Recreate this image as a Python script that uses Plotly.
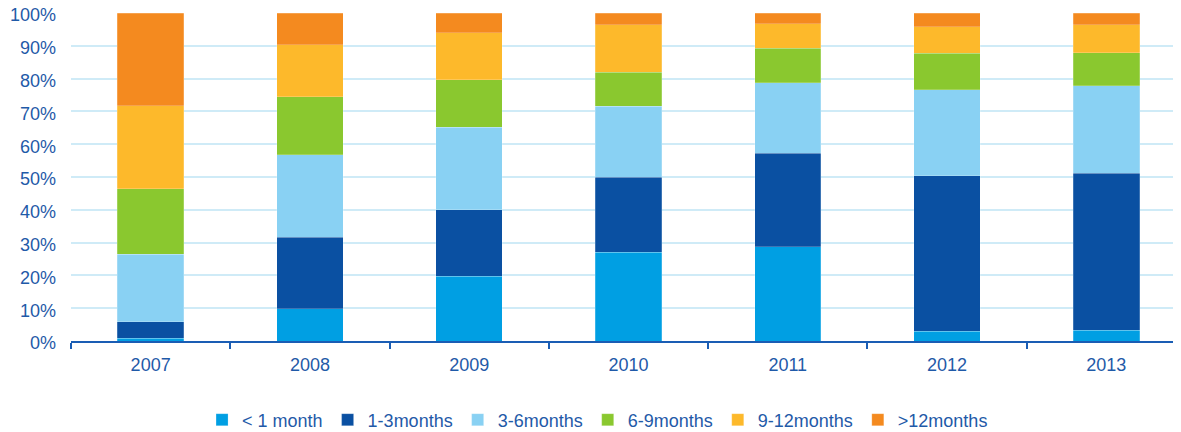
import plotly.graph_objects as go

years = ["2007", "2008", "2009", "2010", "2011", "2012", "2013"]

lt_1m = [0.8, 9.9, 19.7, 27.0, 28.8, 3.0, 3.3]
m1_3 = [5.0, 21.8, 20.3, 23.0, 28.4, 47.4, 47.9]
m3_6 = [20.6, 25.1, 25.2, 21.5, 21.5, 26.2, 26.6]
m6_9 = [20.0, 17.6, 14.5, 10.4, 10.5, 11.1, 10.1]
m9_12 = [25.3, 15.9, 14.3, 14.5, 7.5, 8.1, 8.5]
gt_12m = [28.3, 9.7, 6.0, 3.6, 3.3, 4.2, 3.6]

series_names = ["< 1 month", "1-3months", "3-6months", "6-9months", "9-12months", ">12months"]
series_values = [lt_1m, m1_3, m3_6, m6_9, m9_12, gt_12m]
colors = ["#009FE3", "#0A50A2", "#89D1F3", "#8AC82F", "#FDB92B", "#F48A1F"]

y_tickvals = [0, 10, 20, 30, 40, 50, 60, 70, 80, 90, 100]
y_ticktext = [f"{v}%" for v in y_tickvals]

text_color = "#1F5AA8"
font_family = "Liberation Sans, Arial, sans-serif"

# The page adds an 8px body margin, so the figure is sized to fill the
# remaining 1173x424 area of the 1181x432 window.
W, H = 1173, 424

fig = go.Figure()
for name, vals, col in zip(series_names, series_values, colors):
    fig.add_trace(go.Bar(
        x=years, y=vals, name=name,
        marker=dict(color=col, line=dict(color="rgba(255,255,255,0.35)", width=0.6)),
    ))

fig.update_layout(
    barmode="stack",
    bargap=0.583,
    width=W, height=H,
    margin=dict(l=63, r=0, t=5, b=91, autoexpand=False),
    paper_bgcolor="white",
    plot_bgcolor="white",
    font=dict(family=font_family, size=18, color=text_color),
    showlegend=True,
    legend=dict(
        orientation="h",
        x=0.5026, xanchor="center", xref="container",
        y=1 - 412 / H, yanchor="middle", yref="container",
        font=dict(size=18, color=text_color),
        traceorder="normal",
        itemwidth=30,
        bgcolor="rgba(0,0,0,0)",
    ),
    xaxis=dict(
        type="category",
        range=[-0.5, 6.469],
        showgrid=False,
        showline=True, linecolor="#1A5DB4", linewidth=2,
        ticks="outside", tickson="boundaries", ticklen=6, tickwidth=2, tickcolor="#1A5DB4",
        tickfont=dict(size=18, color=text_color),
        ticklabelstandoff=6,
        zeroline=False,
        automargin=False,
    ),
    yaxis=dict(
        range=[0, 100],
        tickvals=y_tickvals,
        ticktext=y_ticktext,
        showgrid=True, gridcolor="#CFEBF7", gridwidth=1.5,
        showline=False, zeroline=False,
        ticks="",
        tickfont=dict(size=18, color=text_color),
        ticklabelstandoff=14,
        ticklabelshift=2,
        ticklabeloverflow="allow",
        automargin=False,
    ),
)

fig.write_html("out.html")
